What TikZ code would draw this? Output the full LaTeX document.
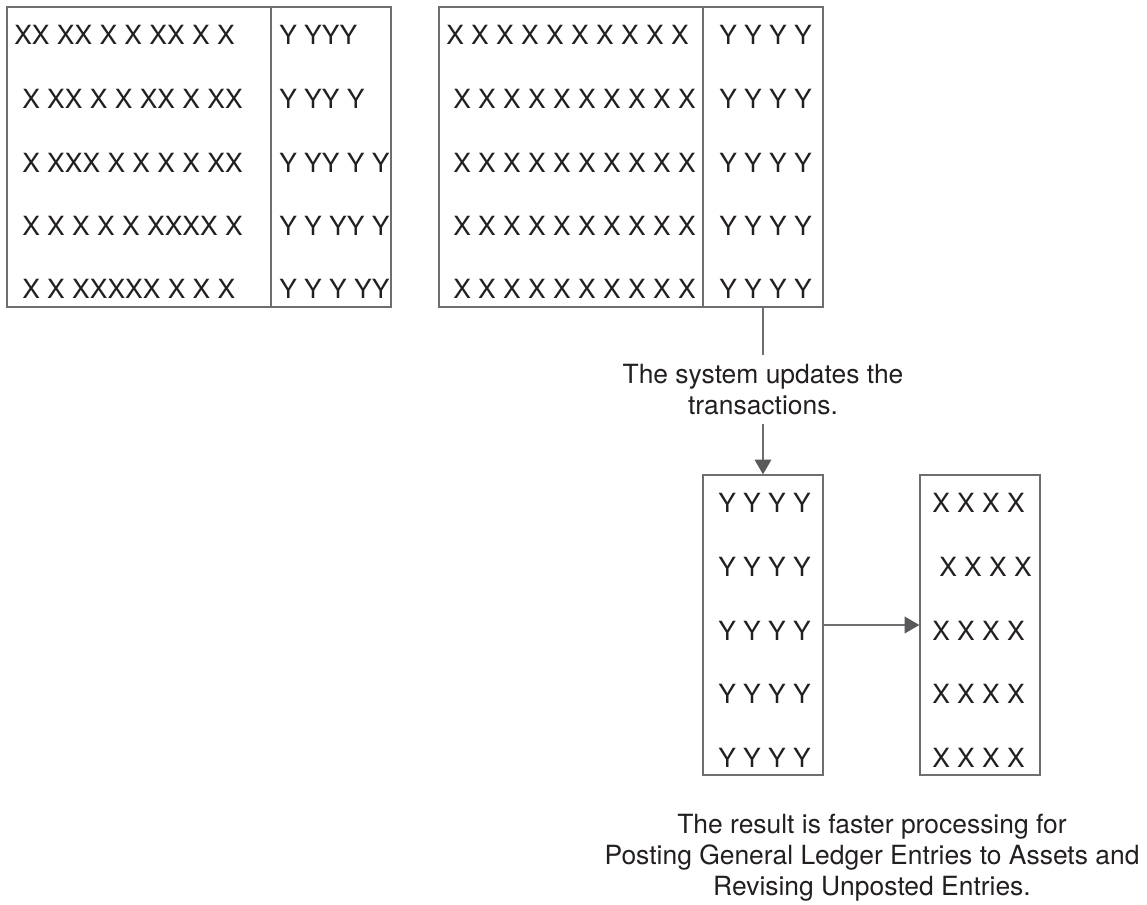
\documentclass[tikz,border=0pt]{standalone}
\usepackage{fontspec}
\setmainfont{TeX Gyre Heros}
\usetikzlibrary{arrows.meta}
\definecolor{linegray}{HTML}{6D6E71}
\definecolor{tipgray}{HTML}{58595B}
\definecolor{inkblack}{HTML}{231F20}
\tikzset{
	cell/.style={draw=linegray, line width=0.9pt, rectangle, inner sep=0pt, minimum height=7.5cm},
	wide/.style={cell, minimum width=6.6cm},
	narrow/.style={cell, minimum width=3cm},
	row/.style={anchor=base west, inner sep=0pt, text=inkblack},
	lbl/.style={align=center, text=inkblack, inner sep=0.22cm},
	conn/.style={draw=linegray, line width=0.9pt},
	arr/.style={conn, -{Triangle[length=0.37cm, width=0.42cm, fill=tipgray, color=tipgray]}}
}
\begin{document}
\begin{tikzpicture}[x=0.025cm, y=-0.025cm, font=\fontsize{18.8}{22}\selectfont]
		\useasboundingbox (0,0) rectangle (1147,904);
		\node[wide] (xa) at (139,157) {};
		\node[narrow] (ya) at (331,157) {};
		\node[wide] (xb) at (571,157) {};
		\node[narrow] (yb) at (763,157) {};
		\node[narrow] (yc) at (763,625) {};
		\node[narrow] (xd) at (980,625) {};
		\node[row] (xa1) at (14,44) {XX XX X X XX X X};
		\node[row] (xa2) at (22,108) {X XX X X XX X XX};
		\node[row] (xa3) at (22,172) {X XXX X X X X XX};
		\node[row] (xa4) at (22,235) {X X X X X XXXX X};
		\node[row] (xa5) at (22,298) {X X XXXXX X X X};
		\node[row] (ya1) at (279,44) {Y YYY};
		\node[row] (ya2) at (279,108) {Y YY Y};
		\node[row] (ya3) at (279,172) {Y YY Y Y};
		\node[row] (ya4) at (279,235) {Y Y YY Y};
		\node[row] (ya5) at (279,298) {Y Y Y YY};
		\node[row] (xb1) at (446,44) {X X X X X X X X X X};
		\node[row] (xb2) at (453,108) {X X X X X X X X X X};
		\node[row] (xb3) at (453,172) {X X X X X X X X X X};
		\node[row] (xb4) at (453,235) {X X X X X X X X X X};
		\node[row] (xb5) at (453,298) {X X X X X X X X X X};
		\node[row] (yb1) at (719,44) {Y Y Y Y};
		\node[row] (yb2) at (719,108) {Y Y Y Y};
		\node[row] (yb3) at (719,172) {Y Y Y Y};
		\node[row] (yb4) at (719,235) {Y Y Y Y};
		\node[row] (yb5) at (719,298) {Y Y Y Y};
		\node[row] (yc1) at (718,512) {Y Y Y Y};
		\node[row] (yc2) at (718,576) {Y Y Y Y};
		\node[row] (yc3) at (718,640) {Y Y Y Y};
		\node[row] (yc4) at (718,703) {Y Y Y Y};
		\node[row] (yc5) at (718,767) {Y Y Y Y};
		\node[row] (xd1) at (932,512) {X X X X};
		\node[row] (xd2) at (939,576) {X X X X};
		\node[row] (xd3) at (932,640) {X X X X};
		\node[row] (xd4) at (932,703) {X X X X};
		\node[row] (xd5) at (932,767) {X X X X};
		\node[lbl, anchor=north] (upd) at (763,355) {The system updates the\\transactions.};
		\draw[conn] (yb.south) -- (upd.north);
		\draw[arr] (upd.south) -- (yc.north);
		\draw[arr] (yc.east) -- (xd.west);
		\node[lbl, anchor=north] (res) at (872,805) {The result is faster processing for\\Posting General Ledger Entries to Assets and\\Revising Unposted Entries.};
	\end{tikzpicture}
\end{document}
